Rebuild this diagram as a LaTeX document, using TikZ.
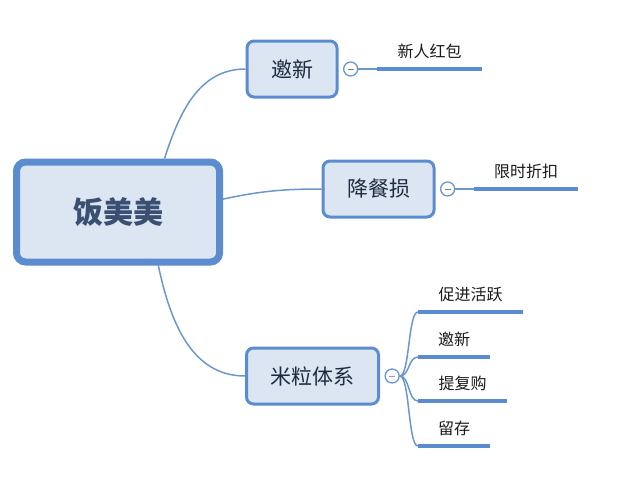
\documentclass[tikz,border=0pt]{standalone}
\usepackage{fontspec}
\newfontfamily\cjk{Noto Sans CJK SC}
\usetikzlibrary{positioning, backgrounds}
\definecolor{mmline}{HTML}{5B8CD0}
\definecolor{mmedge}{HTML}{6B97CF}
\definecolor{mmfill}{HTML}{DCE5F2}
\definecolor{mmroot}{HTML}{3A5072}
\definecolor{mmtext}{HTML}{1D2B3F}

\begin{document}
\begin{tikzpicture}[x=1pt, y=-1pt, font=\cjk, align=center,
  root/.style={draw=mmline, line width=7pt, fill=mmfill, rounded corners=9pt,
    minimum width=203pt, minimum height=100pt, text=mmroot,
    font=\cjk\bfseries\fontsize{30pt}{30pt}\selectfont},
  topic/.style={draw=mmline, line width=3pt, fill=mmfill, rounded corners=7pt,
    inner xsep=24pt, minimum height=56pt, text=mmtext,
    font=\cjk\fontsize{21pt}{21pt}\selectfont},
  fold/.style={circle, draw=mmedge, line width=1.3pt, fill=white, minimum size=14pt,
    inner sep=0pt, path picture={\draw[#1, line width=1pt]
      ([xshift=-3pt]path picture bounding box.center) -- ([xshift=3pt]path picture bounding box.center);}},
  fold/.default=gray,
  leaf/.style={inner xsep=0pt, inner ysep=11pt, text depth=0pt, text=black!90,
    font=\cjk\fontsize{16pt}{16pt}\selectfont},
  under/.style={draw=mmline, line width=3.5pt},
  edge/.style={draw=mmedge, line width=1.5pt}]
  \useasboundingbox (0,0) rectangle (640,480);

  \node[root] (fmm) at (118,212) {饭美美};

  \node[topic] (yx) at (292,69) {邀新};
  \node[topic] (jcs) at (378.5,189) {降餐损};
  \node[topic] (mlt) at (312.5,376) {米粒体系};

  \node[fold, right=4.5pt of yx] (f1) {};
  \node[fold, right=4.5pt of jcs] (f2) {};
  \node[fold=purple!50, right=4.5pt of mlt] (f3) {};

  \node[leaf, minimum width=104pt, right=19pt of f1, anchor=south west] (xrhb) {新人红包};
  \node[leaf, minimum width=103pt, right=19pt of f2, anchor=south west] (xszk) {限时折扣};
  \node[leaf, minimum width=105pt, anchor=south west] (cjhy) at (418,312) {促进活跃};
  \node[leaf, minimum width=72pt, anchor=south west] (yx2) at (418,357) {邀新};
  \node[leaf, minimum width=89pt, anchor=south west] (tfg) at (418,401) {提复购};
  \node[leaf, minimum width=72pt, anchor=south west] (lc) at (418,446) {留存};

  \foreach \n in {xrhb, xszk, cjhy, yx2, tfg, lc}
    \draw[under] (\n.south west) -- (\n.south east);

  \begin{scope}[on background layer]
    \draw[edge] (fmm.49) to[out=72, in=180] (yx.west);
    \draw[edge] (fmm.7) to[out=12, in=180] (jcs.west);
    \draw[edge] (fmm.-53) to[out=-78, in=180] (mlt.west);
    \draw[edge] (f1) -- (xrhb.south west);
    \draw[edge] (f2) -- (xszk.south west);
    \foreach \n in {cjhy, yx2, tfg, lc}
      \draw[edge] (f3.east) .. controls +(10,0) and +(-10,0) .. (\n.south west);
  \end{scope}
\end{tikzpicture}
\end{document}
